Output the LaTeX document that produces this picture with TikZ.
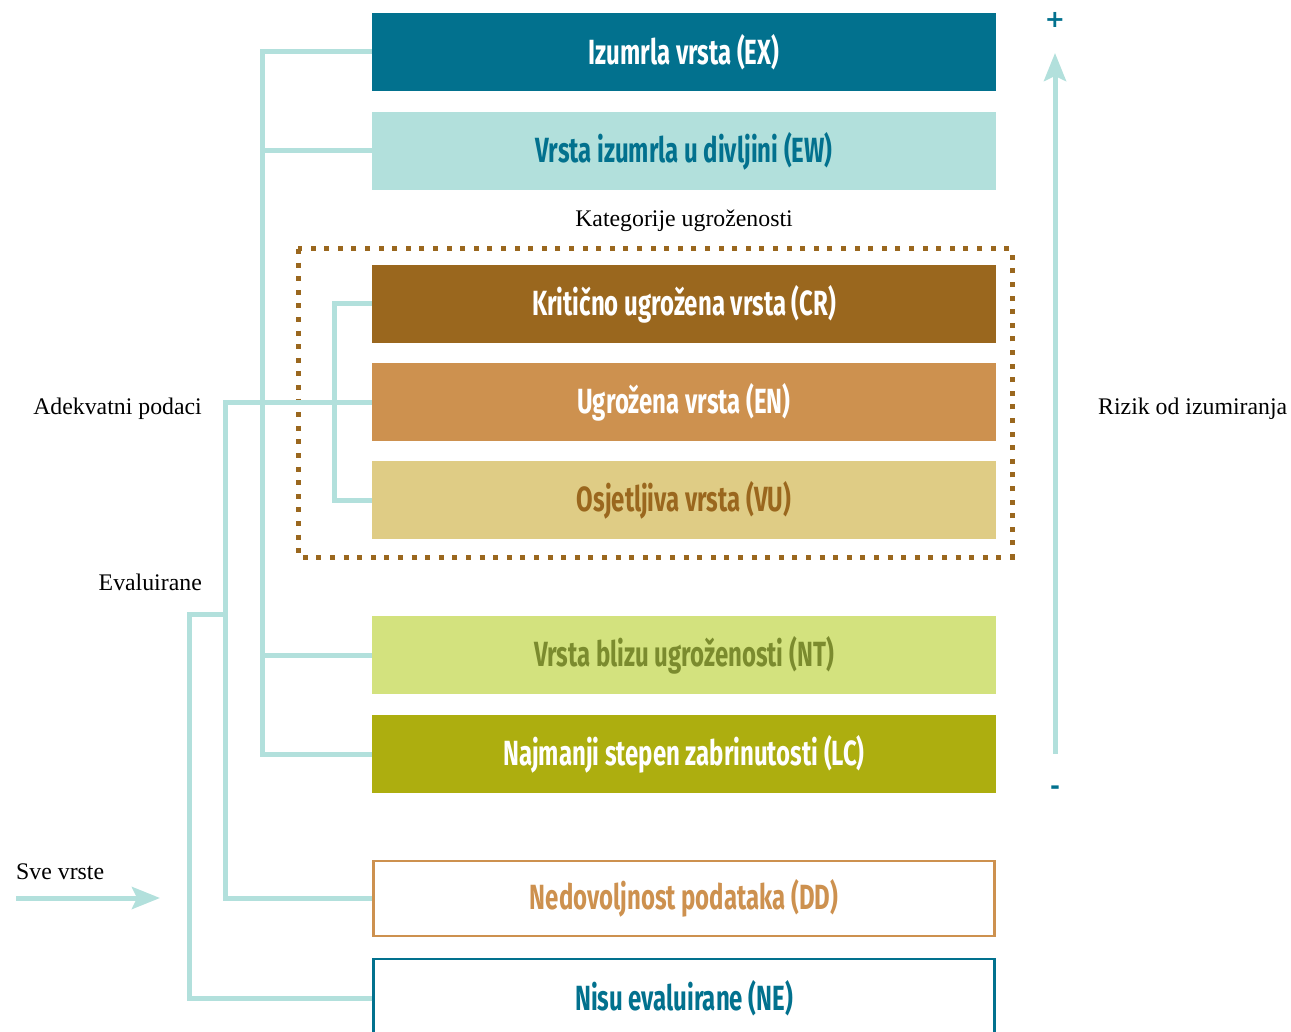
\documentclass[tikz,border=0pt]{standalone}
\usepackage{fontspec}
\setmainfont{Liberation Serif}
\newfontfamily\boxfont[FakeStretch=0.685]{Fira Sans}
\newfontfamily\signfont{DejaVu Sans}
\usetikzlibrary{arrows.meta}
\definecolor{cteal}{HTML}{02718E}
\definecolor{clight}{HTML}{B2E0DC}
\definecolor{cbrown}{HTML}{9A671E}
\definecolor{corange}{HTML}{CD914F}
\definecolor{csand}{HTML}{DFCC85}
\definecolor{clime}{HTML}{D3E27E}
\definecolor{colive}{HTML}{7B8B2E}
\definecolor{cmoss}{HTML}{ADAE0F}
\tikzset{
  catbox/.style={minimum width=624pt, minimum height=78pt, inner sep=0pt,
    font=\boxfont\bfseries\fontsize{35}{40}\selectfont},
  conn/.style={draw=clight, line width=5pt},
  lbl/.style={font=\fontsize{23.8}{26}\selectfont, text=black, inner sep=0pt},
  sign/.style={text=cteal, font=\signfont\bfseries\fontsize{24}{26}\selectfont, inner sep=0pt},
}
\begin{document}
\begin{tikzpicture}[x=1pt,y=-1pt]
\useasboundingbox (0,0) rectangle (1291,1032);
% dotted frame
\draw[cbrown, line width=5pt, dash pattern=on 5pt off 8.6pt] (298,249) rectangle (1012,557);
% boxes
\node[catbox, fill=cteal, text=white] (EX) at (684,52) {Izumrla vrsta (EX)};
\node[catbox, fill=clight, text=cteal] (EW) at (684,151) {Vrsta izumrla u divljini (EW)};
\node[catbox, fill=cbrown, text=white] (CR) at (684,304) {Kritično ugrožena vrsta (CR)};
\node[catbox, fill=corange, text=white] (EN) at (684,402) {Ugrožena vrsta (EN)};
\node[catbox, fill=csand, text=cbrown] (VU) at (684,500) {Osjetljiva vrsta (VU)};
\node[catbox, fill=clime, text=colive] (NT) at (684,655) {Vrsta blizu ugroženosti (NT)};
\node[catbox, fill=cmoss, text=white] (LC) at (684,754) {Najmanji stepen zabrinutosti (LC)};
\node[catbox, draw=corange, line width=2.5pt, fill=white, text=corange, minimum width=621pt, minimum height=75pt] (DD) at (684,898.5) {Nedovoljnost podataka (DD)};
\node[catbox, draw=cteal, line width=2.5pt, fill=white, text=cteal, minimum width=621pt, minimum height=78pt] (NE) at (684,998) {Nisu evaluirane (NE)};
\node[lbl] (kat) at (684,221) {Kategorije ugroženosti};
% connectors
\draw[conn] (EX.west) -- ++(-109,0) |- (LC.west);
\draw[conn] (EW.west) -- ++(-109,0);
\draw[conn] (NT.west) -- ++(-109,0);
\draw[conn] (CR.west) -- ++(-37,0) |- (VU.west);
\draw[conn] (EN.west) -- ++(-146,0) |- (DD.west);
\coordinate (split) at (226,614);
\draw[conn] (NE.west) -- ++(-183,0) |- (split);
% labels
\node[lbl, anchor=east] (adk) at (202,409) {Adekvatni podaci};
\node[lbl, anchor=east] (eval) at (202,582) {Evaluirane};
\node[lbl, anchor=west] (sve) at (16,872) {Sve vrste};
\node[lbl, anchor=west] (rizik) at (1098,409) {Rizik od izumiranja};
% input arrow
\coordinate (svs) at (16,898);
\coordinate (sve2) at (160,898);
\draw[conn, -{Stealth[length=28pt,width=22pt,inset=5pt]}] (svs) -- (sve2);
% risk arrow
\coordinate (rlo) at (1055,754);
\coordinate (rhi) at (1055,53);
\draw[conn, -{Stealth[length=28pt,width=22pt,inset=5pt]}] (rlo) -- (rhi);
\node[sign] (plus) at (1055,20) {+};
\node[sign] (minus) at (1055,790) {-};
\end{tikzpicture}
\end{document}
